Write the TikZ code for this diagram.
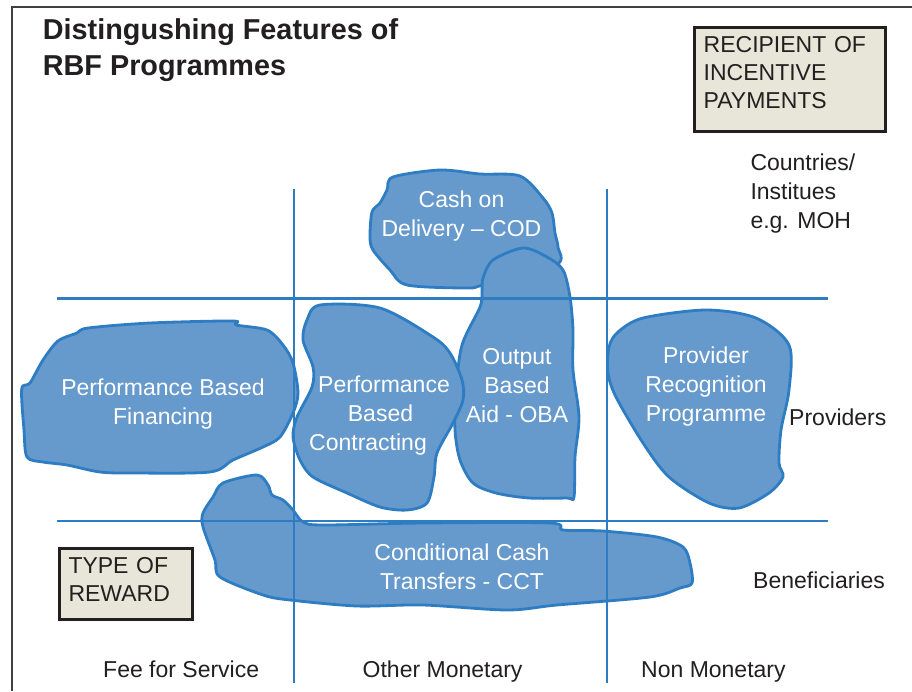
\documentclass[tikz,border=0pt]{standalone}
\usepackage{fontspec}
\setmainfont{Liberation Sans}
\definecolor{blobfill}{RGB}{102,153,204}
\definecolor{blobline}{RGB}{46,125,195}
\definecolor{boxfill}{RGB}{232,229,217}
\definecolor{labelblack}{RGB}{35,31,32}
\definecolor{framegray}{RGB}{64,64,64}
\begin{document}
\begin{tikzpicture}[x=1pt,y=-1pt,
  blob/.style={fill=blobfill, draw=blobline, line width=2.8pt, line join=round},
  gridline/.style={draw=blobline, line width=2.8pt},
  wlabel/.style={text=white, font=\fontsize{23}{29}\selectfont, align=center, anchor=base, inner sep=0pt},
  klabel/.style={text=labelblack, font=\fontsize{23}{29}\selectfont, align=left, anchor=base west, inner sep=0pt},
  keybox/.style={draw=labelblack, fill=boxfill, line width=3pt, text=labelblack,
    font=\fontsize{23}{28}\selectfont, align=left, inner xsep=9pt, inner ysep=0pt, anchor=north west}]
\useasboundingbox (0,0) rectangle (912,691);
\fill[white] (0,0) rectangle (912,691);
% frame
\draw[framegray, line width=1.5pt] (12,691) -- (12,7) -- (912,7);

% blobs
\path[blob] plot[smooth cycle, tension=0.5] coordinates {
  (393,177) (440,170) (480,174) (520,176) (543,198) (552,213) (555,233) (558,247)
  (556,265) (483,285) (467,288) (407,285) (390,270) (373,250) (370,237) (372,212)
  (380,203) (387,190)};
\path[blob] plot[smooth cycle, tension=0.5] coordinates {
  (483,278) (493,260) (523,248) (547,257) (563,270) (570,297) (573,330) (573,370)
  (579,417) (575,457) (574,497) (567,498) (529,498) (496,493) (473,483) (460,460)
  (455,430) (456,390) (462,345) (480,307) (482,292)};
\path[blob] plot[smooth cycle, tension=0.5] coordinates {
  (21.7,389) (30,383) (43,360) (58,341) (77,333) (88,328) (150,323) (233,321)
  (236,325) (267,330) (283,345) (293,363) (298,393) (293,413) (280,437) (263,447)
  (233,460) (210,472) (133,473) (100,472) (67,465) (43,462) (27,457) (24,430)};
\path[blob] plot[smooth cycle, tension=0.5] coordinates {
  (320,305) (380,308) (433,337) (450,353) (462,380) (463,400) (453,423) (437,453)
  (434,477) (427,503) (407,510) (380,507) (347,493) (313,477) (300,460) (293,437)
  (297,417) (312,387) (313,367) (303,340) (307,320)};
\path[blob] plot[smooth cycle, tension=0.5] coordinates {
  (618,332) (643,318) (706,310) (756,318) (789,345) (789,390) (781,430) (779,463)
  (783,477) (769,493) (739,508) (709,503) (669,477) (643,443) (616,397) (608,373)
  (609,347)};
\path[blob] plot[smooth cycle, tension=0.5] coordinates {
  (203,513) (213,497) (223,483) (257,475) (268,485) (272,495) (283,500) (293,510)
  (303,522) (323,525) (423,523) (550,523) (563,530) (603,531) (657,537) (683,547)
  (690,563) (692,583) (680,588) (650,597) (557,605) (507,610) (423,605) (357,606)
  (290,600) (263,595) (220,577) (215,560) (203,527)};

% grid
\draw[gridline] (57,298.5) -- (828,298.5);
\draw[gridline] (57,521) -- (828,521);
\draw[gridline] (294,189) -- (294,683);
\draw[gridline] (607,189) -- (607,683);

% title (base anchor = last line's baseline)
\node[text=labelblack, font=\fontsize{28.8}{36}\selectfont\bfseries, align=left, anchor=base west, inner sep=0pt]
  (title) at (42.7,75) {Distingushing Features of\\RBF Programmes};

% key boxes
\node[keybox, minimum width=190.3pt, minimum height=104pt, text width=172.3pt]
  (recipient) at (693.2,25.5) {RECIPIENT OF\\INCENTIVE\\PAYMENTS\rule[-13.7pt]{0pt}{13.7pt}};
\node[keybox, minimum width=133pt, minimum height=71pt, text width=114pt]
  (reward) at (57.5,546.5) {TYPE OF\\REWARD\rule[-8.1pt]{0pt}{8.1pt}};

% blob labels
\node[wlabel] (cod) at (461.5,236) {Cash on\\Delivery -- COD};
\node[wlabel] (oba) at (517,422.7) {Output\\Based\\Aid - OBA};
\node[wlabel] (pbf) at (163,424) {Performance Based\\Financing};
\node[wlabel] (pbc) at (384,450) {Performance\\Based\rule{7pt}{0pt}\\Contracting\rule{32pt}{0pt}};
\node[wlabel] (prp) at (706,421) {Provider\\Recognition\\Programme};
\node[wlabel] (cct) at (462,589.3) {Conditional Cash\\Transfers - CCT};

% axis labels
\node[klabel] (countries) at (750.3,228) {Countries/\\Institues\\e.g. MOH};
\node[klabel] (providers) at (789,425) {Providers};
\node[klabel] (benef) at (753,588) {Beneficiaries};
\node[klabel] (fee) at (103,677) {Fee for Service};
\node[klabel] (othermon) at (362.5,677) {Other Monetary};
\node[klabel] (nonmon) at (641,677) {Non Monetary};
\end{tikzpicture}
\end{document}
